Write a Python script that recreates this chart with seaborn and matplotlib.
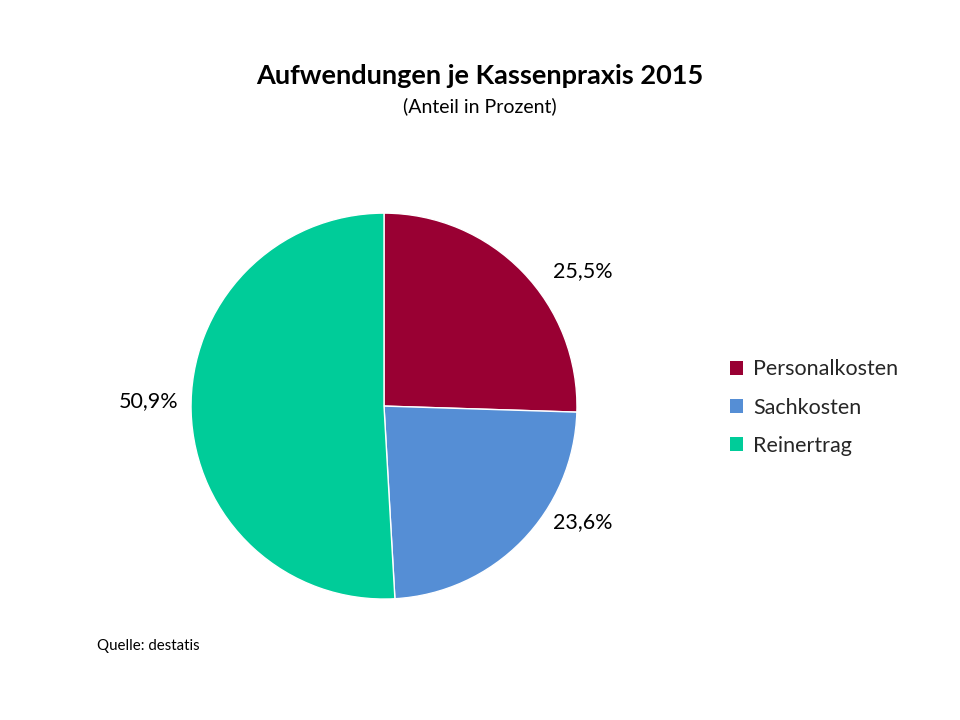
import numpy as np
import seaborn as sns
import matplotlib.pyplot as plt
from matplotlib.patches import Patch

sns.set_theme(style="white")
plt.rcParams['font.family'] = ['Lato', 'DejaVu Sans']

kategorien = ['Personalkosten', 'Sachkosten', 'Reinertrag']
anteile = [25.5, 23.6, 50.9]
farben = ['#990033', '#558ED5', '#00CC99']

fig = plt.figure(figsize=(9.6, 7.2), dpi=100)
fig.patch.set_facecolor('white')

ax = fig.add_axes([0.199, 0.168, 0.402, 0.536])
wedges, _ = ax.pie(anteile, colors=farben, startangle=90, counterclock=False,
                   wedgeprops=dict(edgecolor='white', linewidth=1))
ax.set_xlim(-1, 1)
ax.set_ylim(-1, 1)
ax.set_aspect('equal')

# Beschriftung ausserhalb, etwas zur Horizontalen gezogen (wie Excel "beste Anpassung")
for w, wert in zip(wedges, anteile):
    mitte = ((w.theta1 + w.theta2) / 2 + 180) % 360 - 180
    if np.cos(np.radians(mitte)) >= 0:
        winkel = mitte * 0.73
    else:
        basis = 180 if mitte > 0 else -180
        winkel = basis + (mitte - basis) * 0.73
    x = 1.22 * np.cos(np.radians(winkel))
    y = 1.22 * np.sin(np.radians(winkel)) + 0.05
    ax.text(x, y, f'{wert:.1f}%'.replace('.', ','), ha='center', va='center',
            fontsize=15.5, color='black', clip_on=False)

handles = [Patch(facecolor=f, edgecolor='none') for f in farben]
fig.legend(handles, kategorien, loc='center left', bbox_to_anchor=(0.74, 0.434),
           frameon=False, fontsize=15.5, handlelength=0.62, handleheight=0.62,
           handletextpad=0.45, labelspacing=0.85)

fig.text(0.5, 0.895, 'Aufwendungen je Kassenpraxis 2015', ha='center', va='center',
         fontsize=19.5, fontweight='bold', color='black')
fig.text(0.5, 0.853, '(Anteil in Prozent)', ha='center', va='center',
         fontsize=14, color='black')
fig.text(0.101, 0.103, 'Quelle: destatis', ha='left', va='center',
         fontsize=10.8, color='black')

fig.savefig('out.png', dpi=100, facecolor='white')
